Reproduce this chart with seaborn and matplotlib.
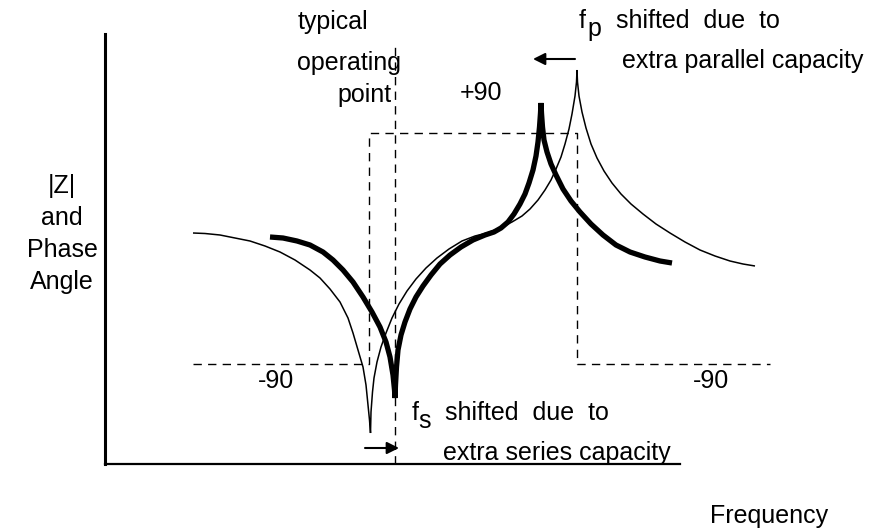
import matplotlib
matplotlib.use("Agg")
import matplotlib.pyplot as plt
import seaborn as sns
import pandas as pd

# Impedance / phase sketch of a crystal: original (thin) and shifted (thick) curves
# x = frequency (arbitrary units), y = |Z| (arbitrary units)
thin_freq = [88, 100, 115, 130, 145, 160, 175, 190, 205, 215, 225, 235, 243, 248, 253,
             258, 261, 263, 264.5, 265.5,
             266, 267.5, 269, 272, 276, 281, 287, 294, 302, 311, 321, 332, 344, 357, 370,
             382, 395, 407, 417, 425, 433, 440, 446, 451, 456, 460, 464, 467, 470, 471.5, 472,
             472.5, 474, 477, 481, 486, 492, 499, 507, 516, 526, 538, 551, 565, 580, 595,
             610, 625, 638, 650]
thin_z = [231, 230.5, 229, 226, 223, 218, 212, 204, 194, 186, 175, 162, 146, 131, 114,
          97, 79, 59, 44, 31,
          52, 72, 86, 102, 117, 131, 146, 160, 173, 185, 196, 206, 215, 223, 228,
          231, 236, 242, 248, 255, 264, 274, 284, 295, 307, 320, 335, 350, 368, 382, 394,
          382, 368, 352, 336, 320, 306, 293, 281, 270, 260, 250, 240, 231, 222, 214,
          208, 203, 200, 198]

thick_freq = [165, 178, 192, 205, 218, 228, 238, 248, 258, 267, 275, 281, 285, 288, 289.5, 290,
              290.5, 291.5, 293, 296, 300, 305, 311, 318, 326, 335, 345, 356, 368, 380, 389,
              396, 403, 409, 415, 420, 424, 428, 431, 433, 434.5, 435.5, 436,
              436.5, 437.5, 439, 442, 446, 451, 458, 466, 475, 486, 498, 511, 525, 540,
              555, 567]
thick_z = [227, 226, 223, 219, 212, 204, 194, 182, 167, 152, 137, 122, 107, 89, 74, 66,
           79, 97, 114, 129, 142, 155, 167, 178, 189, 200, 209, 217, 224, 229, 232,
           236, 242, 250, 260, 270, 281, 294, 308, 322, 337, 351, 361,
           351, 337, 324, 312, 300, 289, 275, 263, 252, 240, 229, 219, 212, 207,
           203, 201]

# phase step (-90 -> +90 -> -90) of the original crystal
phase_freq = [88, 264, 264, 472, 472, 665]
phase_level = [100, 100, 331, 331, 100, 100]

operating_freq = 290
fs_shift = (260, 294)   # arrow: fs moves up
fp_shift = (470, 428)   # arrow: fp moves down

sns.set_theme(style="white")
plt.rcParams['font.family'] = ['Liberation Sans', 'DejaVu Sans']

fig = plt.figure(figsize=(8.69, 5.29), dpi=100)
ax = fig.add_axes([105 / 869, 65 / 529, 575 / 869, 430 / 529])

thin = pd.DataFrame({'f': thin_freq, 'z': thin_z})
thick = pd.DataFrame({'f': thick_freq, 'z': thick_z})
sns.lineplot(data=thin, x='f', y='z', sort=False, estimator=None,
             color='black', linewidth=1.1, ax=ax, clip_on=False,
             solid_capstyle='butt', solid_joinstyle='bevel')
sns.lineplot(data=thick, x='f', y='z', sort=False, estimator=None,
             color='black', linewidth=3.8, ax=ax, clip_on=False,
             solid_capstyle='butt', solid_joinstyle='bevel')

dash = (0, (6, 4.5))
ax.plot(phase_freq, phase_level, color='black', lw=1.0, linestyle=dash, clip_on=False)
ax.plot([operating_freq, operating_freq], [0, 420], color='black', lw=1.0,
        linestyle=dash, clip_on=False)

arrow = dict(arrowstyle='-|>', color='black', lw=1.5, mutation_scale=18,
             shrinkA=0, shrinkB=0)
ax.annotate('', xy=(fs_shift[1], 16), xytext=(fs_shift[0], 16), arrowprops=arrow,
            annotation_clip=False)
ax.annotate('', xy=(fp_shift[1], 405), xytext=(fp_shift[0], 405), arrowprops=arrow,
            annotation_clip=False)

ax.set_xlim(0, 575)
ax.set_ylim(0, 430)
ax.set_xticks([])
ax.set_yticks([])
ax.set_xlabel('')
ax.set_ylabel('')
sns.despine(ax=ax)
ax.spines['left'].set_linewidth(2.2)
ax.spines['bottom'].set_linewidth(1.6)
ax.spines['left'].set_color('black')
ax.spines['bottom'].set_color('black')

fs = 18
kw = dict(color='black', va='baseline', clip_on=False, fontsize=fs)
ax.text(193, 435, 'typical', ha='left', **kw)
ax.text(192, 394, 'operating', ha='left', **kw)
ax.text(287, 362, 'point', ha='right', **kw)
ax.text(355, 364, '+90', ha='left', **kw)

ax.text(474, 436, 'f', ha='left', **kw)
ax.text(482, 428, 'p', ha='left', **kw)
ax.text(511, 436, 'shifted  due  to', ha='left', **kw)
ax.text(517, 396, 'extra parallel capacity', ha='left', **kw)

ax.text(307, 44, 'f', ha='left', **kw)
ax.text(313, 36, 's', ha='left', **kw)
ax.text(340, 44, 'shifted  due  to', ha='left', **kw)
ax.text(338, 4, 'extra series capacity', ha='left', **kw)

ax.text(171, 76, '-90', ha='center', **kw)
ax.text(606, 76, '-90', ha='center', **kw)

# y label, stacked to the left of the axis
for label, y in zip(['|Z|', 'and', 'Phase', 'Angle'], [271, 239, 207, 175]):
    ax.text(-43, y, label, ha='center', **kw)

ax.text(605, -59, 'Frequency', ha='left', **kw)

fig.savefig('out.png', dpi=100)
